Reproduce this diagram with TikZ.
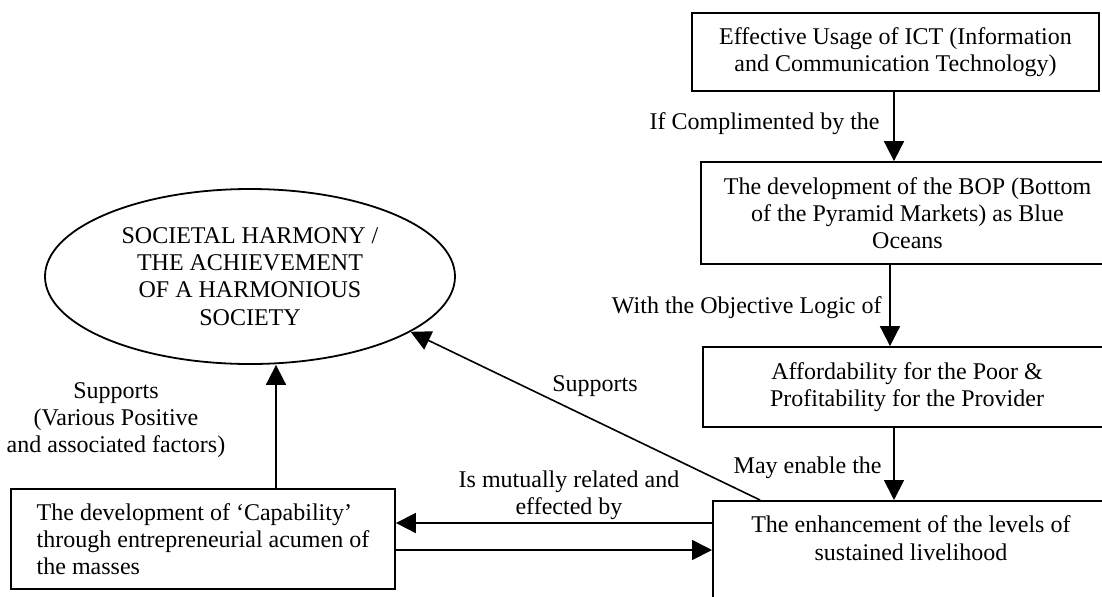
\documentclass[tikz,border=0pt]{standalone}
\usepackage{fontspec}
\setmainfont{Liberation Serif}
\usetikzlibrary{arrows.meta,shapes.geometric}
\newcommand{\tf}{\fontsize{12pt}{13.6pt}\selectfont}
\tikzset{
  box/.style={draw, line width=0.9pt, rectangle, inner sep=0pt, align=center, font=\tf},
  oval/.style={draw, line width=0.9pt, ellipse, inner sep=0pt, align=center, font=\tf},
  lbl/.style={font=\tf, inner sep=0pt},
  arr/.style={-{Triangle[length=10pt,width=10pt]}, line width=0.9pt},
}
\begin{document}
\begin{tikzpicture}[x=0.5pt,y=-0.5pt]
\useasboundingbox (0,0) rectangle (1102,596);
\clip (0,0) rectangle (1102,596);
\fill[white] (0,0) rectangle (1102,596);

% boxes
\node[box, minimum width=203.5pt, minimum height=39pt] (box1) at (895.5,52)
  {Effective Usage of ICT (Information\\and Communication Technology)};
\node[box, minimum width=206.5pt, minimum height=51pt] (box2) at (907.5,213)
  {The development of the BOP (Bottom\\of the Pyramid Markets) as Blue\\Oceans};
\node[box, minimum width=204pt, minimum height=40pt] (box3) at (907,387)
  {Affordability for the Poor \&\\Profitability for the Provider};
\node[box, anchor=north west, minimum width=198pt, inner ysep=7.5pt] (box4) at (712,500)
  {The enhancement of the levels of\\sustained livelihood\\ \mbox{}\\ \mbox{}\\ \mbox{}};
\node[box, minimum width=192pt, minimum height=50pt, align=left] (cap) at (203,539)
  {The development of `Capability'\\through entrepreneurial acumen of\\the masses};
\node[oval, minimum width=205pt, minimum height=87.5pt] (soc) at (250,276.5)
  {SOCIETAL HARMONY /\\THE ACHIEVEMENT\\OF A HARMONIOUS\\SOCIETY};

% helper coordinates
\coordinate (xa) at (894,0);
\coordinate (xb) at (890,0);
\coordinate (xc) at (894,0);
\coordinate (xd) at (276,0);
\coordinate (xe) at (760,0);
\coordinate (ya) at (0,523);
\coordinate (yb) at (0,550);

% connectors
\draw[arr] (box1.south -| xa) -- (box2.north -| xa);
\draw[arr] (box2.south -| xb) -- (box3.north -| xb);
\draw[arr] (box3.south -| xc) -- (box4.north -| xc);
\draw[arr] (cap.north -| xd) -- (soc.south -| xd);
\draw[arr, line width=0.8pt] (box4.north -| xe) -- (soc.-19);
\draw[arr] (box4.west |- ya) -- (cap.east |- ya);
\draw[arr] (cap.east |- yb) -- (box4.west |- yb);

% labels
\node[lbl, anchor=base east] (l1) at (880,129) {If Complimented by the};
\node[lbl, anchor=base east] (l2) at (882,313) {With the Objective Logic of};
\node[lbl, anchor=base east] (l3) at (882,473) {May enable the};
\node[lbl, anchor=base] (l4) at (595,391) {Supports};
\node[lbl, align=center] (l5) at (116,420) {Supports\\(Various Positive\\and associated factors)};
\node[lbl, align=center] (l6) at (569,495) {Is mutually related and\\effected by};
\end{tikzpicture}
\end{document}
